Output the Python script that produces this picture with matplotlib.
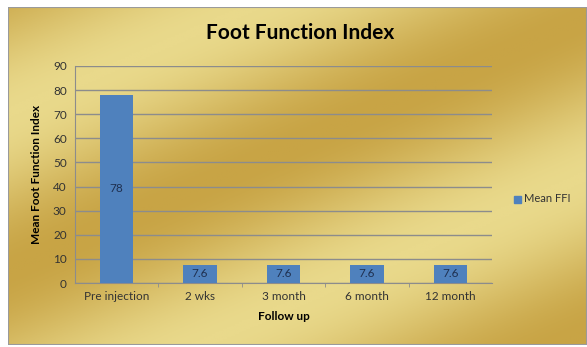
import numpy as np
import matplotlib
matplotlib.use("Agg")
import matplotlib.pyplot as plt
from matplotlib.colors import LinearSegmentedColormap
from matplotlib.patches import Rectangle

# data
categories = ["Pre injection", "2 wks", "3 month", "6 month", "12 month"]
mean_ffi = [78, 7.6, 7.6, 7.6, 7.6]
bar_labels = ["78", "7.6", "7.6", "7.6", "7.6"]

plt.rcParams['font.family'] = ['Lato', 'DejaVu Sans']

fig = plt.figure(figsize=(5.87, 3.47), dpi=100)

#gold gradient background inside the chart frame
bg = fig.add_axes([8 / 587, 2 / 347, 579 / 587, 338 / 347])
bg.set_axis_off()
gold = LinearSegmentedColormap.from_list("gold", ["#c8a445", "#e9d98b"])
xx, yy = np.meshgrid(np.linspace(0, 1, 300), np.linspace(1, 0, 200))
d = 0.6 * xx - 0.8 * yy
shade = 0.5 + 0.5 * np.cos(2 * np.pi * (d + 0.55) / 0.75)
bg.imshow(shade, cmap=gold, aspect='auto', extent=[0, 1, 0, 1], vmin=0, vmax=1)
bg.add_patch(Rectangle((0, 0), 1, 1, fill=False, edgecolor='#9a9a9a', lw=1.5,
                       transform=bg.transAxes))

ax = fig.add_axes([75 / 587, 64 / 347, 417 / 587, 217 / 347])
ax.patch.set_alpha(0)
x = np.arange(len(categories))
ax.bar(x, mean_ffi, width=0.4, color='#4f81bd', zorder=3)
for xi, v, lab in zip(x, mean_ffi, bar_labels):
    ax.text(xi, v / 2, lab, ha='center', va='center', fontsize=8.5,
            color='#1f3050', zorder=4)

ax.set_ylim(0, 90)
ax.set_yticks(np.arange(0, 91, 10))
ax.set_xlim(-0.5, len(categories) - 0.5)
ax.set_xticks(x)
ax.set_xticklabels(categories)
ax.tick_params(axis='both', labelsize=8.5, colors='#333333', length=0, pad=6)
ax.set_xticks(np.arange(0.5, len(categories) - 0.5), minor=True)
ax.tick_params(axis='x', which='minor', length=3, color='#8c8c8c')
ax.grid(axis='y', color='#8c8c8c', lw=1, zorder=1)
for s in ['top', 'right']:
    ax.spines[s].set_visible(False)
ax.spines['left'].set_color('#8c8c8c')
ax.spines['bottom'].set_color('#8c8c8c')

ax.set_xlabel("Follow up", fontsize=8.5, fontweight='bold', labelpad=6)
ax.set_ylabel("Mean Foot Function Index", fontsize=8.5, fontweight='bold', labelpad=8)

fig.text(300 / 587, 1 - 33 / 347, "Foot Function Index", ha='center', va='center',
         fontsize=15, fontweight='bold')

#legend
fig.patches.append(Rectangle((514 / 587, 1 - 203 / 347), 7 / 587, 7 / 347,
                             color='#4f81bd', transform=fig.transFigure))
fig.text(524 / 587, 1 - 199 / 347, "Mean FFI", ha='left', va='center', fontsize=8,
         color='#333333')

fig.savefig('out.png', dpi=100)
